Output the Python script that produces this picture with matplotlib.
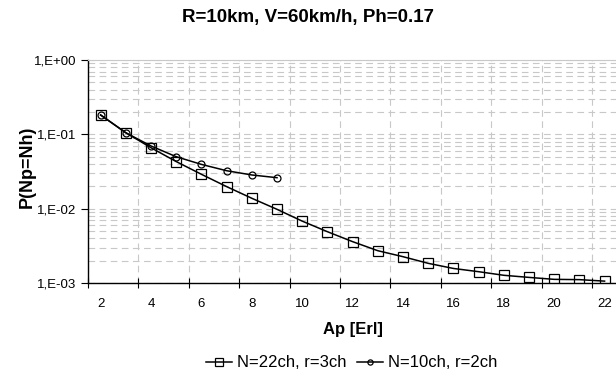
import matplotlib
matplotlib.use("Agg")
import matplotlib.pyplot as plt
from matplotlib.ticker import FixedLocator, NullFormatter, LogLocator

plt.rcParams['font.family'] = ['Liberation Sans', 'DejaVu Sans']

# Dados
ap_22 = list(range(2, 23))
p_22 = [0.182, 0.105, 0.066, 0.043, 0.029, 0.0198, 0.0138, 0.0098, 0.0068,
        0.0049, 0.0036, 0.00272, 0.00226, 0.00184, 0.00157, 0.00142,
        0.00127, 0.00119, 0.00112, 0.00111, 0.00106]
ap_10 = list(range(2, 10))
p_10 = [0.182, 0.105, 0.0697, 0.050, 0.0394, 0.0324, 0.0284, 0.0261]
xtick_labels = ['2', '4', '6', '8', '10', '12', '14', '16', '18', '20', '22']
ytick_labels = ['1,E-03', '1,E-02', '1,E-01', '1,E+00']

fig = plt.figure(figsize=(6.16, 3.78), dpi=100)
ax = fig.add_axes([0.1429, 0.2513, 0.859, 0.59])

ax.plot(ap_22, p_22, color='black', lw=1.1, marker='s', ms=7, mfc='none',
        mec='black', mew=0.9, label='N=22ch, r=3ch')
ax.plot(ap_10, p_10, color='black', lw=1.1, marker='o', ms=5, mfc='none',
        mec='black', mew=0.9, label='N=10ch, r=2ch')

ax.set_yscale('log')
ax.set_ylim(1e-3, 1)
ax.set_xlim(1.5, 22.5)

# eixo y
ax.yaxis.set_major_locator(FixedLocator([1e-3, 1e-2, 1e-1, 1]))
ax.set_yticklabels(ytick_labels)
ax.yaxis.set_minor_locator(LogLocator(base=10, subs=range(2, 10)))
ax.yaxis.set_minor_formatter(NullFormatter())
ax.tick_params(axis='y', which='major', direction='out', length=5, width=0.8, labelsize=9.5)
ax.tick_params(axis='y', which='minor', length=0)

# eixo x: marcas entre categorias, rótulos nas categorias
ax.set_xticks([1.5 + 2 * k for k in range(11)])
ax.set_xticklabels([])
ax.set_xticks(list(range(2, 23, 2)), minor=True)
ax.set_xticklabels(xtick_labels, minor=True)
ax.tick_params(axis='x', which='major', direction='inout', length=7, width=0.8)
ax.tick_params(axis='x', which='minor', length=0, labelsize=9.5, pad=10.5)

ax.grid(True, which='both', axis='y', color='#c8c8c8', ls=(0, (6, 4)), lw=0.8)
ax.grid(True, which='major', axis='x', color='#c8c8c8', ls=(0, (6, 4)), lw=0.8)
ax.set_axisbelow(True)

ax.spines['right'].set_visible(False)
ax.spines['top'].set_color('#c8c8c8')
ax.spines['left'].set_linewidth(1.0)
ax.spines['bottom'].set_linewidth(1.0)

fig.text(0.5, 0.955, 'R=10km, V=60km/h, Ph=0.17', ha='center', va='center',
         fontsize=13.5, fontweight='bold')
ax.set_ylabel('P(Np=Nh)', fontsize=13, fontweight='bold', va='center')
ax.yaxis.set_label_coords(-0.115, 0.52)
ax.set_xlabel('Ap [Erl]', fontsize=12, fontweight='bold', va='center')
ax.xaxis.set_label_coords(0.501, -0.21)

ax.legend(loc='center', bbox_to_anchor=(0.571, 0.04), bbox_transform=fig.transFigure,
          ncol=2, frameon=False, fontsize=12, handlelength=1.6, handletextpad=0.3,
          columnspacing=0.6, markerscale=0.75, borderpad=0)

plt.savefig('out.png', dpi=100)
